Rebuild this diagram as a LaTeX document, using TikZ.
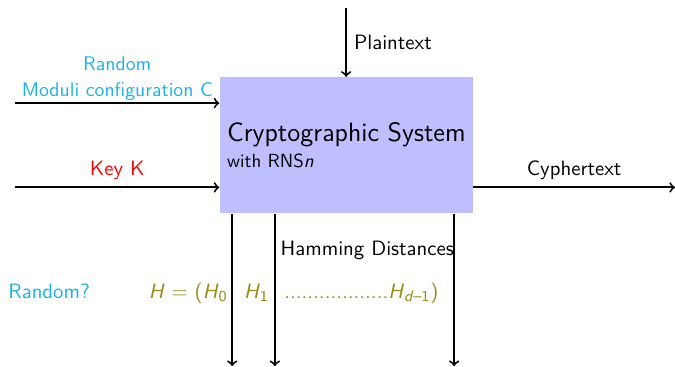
\documentclass[tikz,border=0pt,11pt]{standalone}
\usetikzlibrary{positioning}
\definecolor{rndcyan}{RGB}{27,177,231}
\definecolor{holive}{RGB}{150,140,20}

\begin{document}
\sffamily
\begin{tikzpicture}[>=to,
  flow/.style={->, line width=1pt},
  sysbox/.style={fill=blue!25, minimum width=4.69cm, minimum height=2.52cm, inner xsep=0.12cm, align=left}]
\useasboundingbox (0,0) rectangle (12.5,6.78);
\node[sysbox] (crypto) at (6.415,4.09) {{\fontsize{14}{17}\selectfont Cryptographic System}\\ {\small with RNS\textit{n}}};
\coordinate (ptop) at (6.41,6.63);
\coordinate (modin) at (0.28,4.87);
\coordinate (keyin) at (0.28,3.31);
\coordinate (cout) at (12.5,3.31);
\coordinate (h0) at (4.30,0);
\coordinate (h1) at (5.09,0);
\coordinate (hd) at (8.41,0);

\draw[flow] (ptop) -- node[right] {Plaintext} (ptop |- crypto.north);
\draw[flow] (modin) -- node[above, yshift=-0.1cm, rndcyan, align=center, font=\fontsize{10.4}{12.3}\selectfont] {Random\\[1.5pt]Moduli configuration C} (modin -| crypto.west);
\draw[flow] (keyin) -- node[above, red] {Key K} (keyin -| crypto.west);
\draw[flow] (keyin -| crypto.east) -- node[above] {Cyphertext} (cout);
\draw[flow] (h0 |- crypto.south) -- (h0);
\draw[flow] (h1 |- crypto.south) -- (h1);
\draw[flow] (hd |- crypto.south) -- (hd);

\node (hamming) at (6.8,2.15) {Hamming Distances};
\node[rndcyan] (rnd) at (0.91,1.39) {Random?};
\node[holive, left] (hzero) at (4.35,1.35) {\textit{H} = (\textit{H}\textsubscript{0}};
\node[holive] (hone) at (4.75,1.35) {\textit{H}\textsubscript{1}};
\node[holive, right] (hlast) at (5.13,1.35) {..................\textit{H}\textsubscript{\textit{d}--1})};
\end{tikzpicture}
\end{document}
